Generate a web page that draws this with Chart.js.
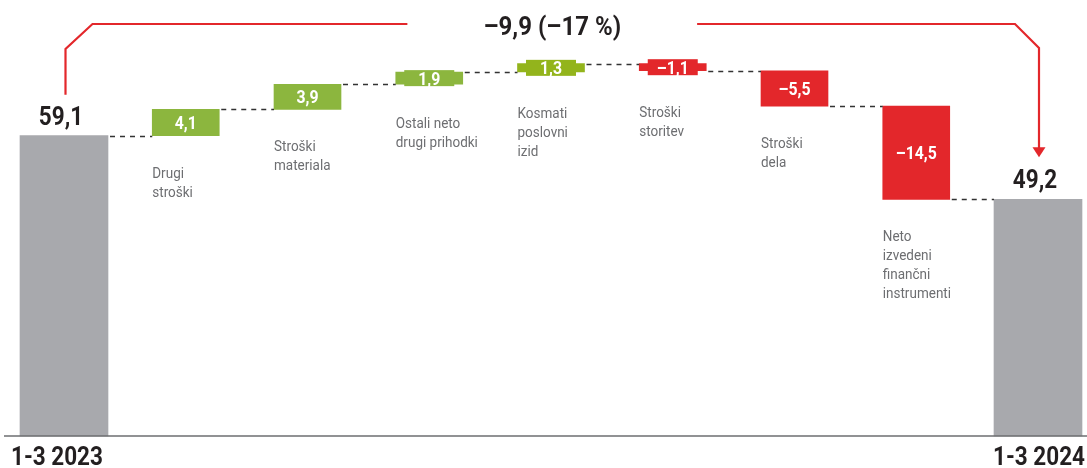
<!DOCTYPE html>
<html>
<head>
<meta charset="utf-8">
<script src="https://cdn.jsdelivr.net/npm/chart.js@4"></script>
<style>
  html, body { margin: 0; padding: 0; background: #fff; }
  #wrap { width: 1087px; height: 468px; }
</style>
</head>
<body>
<div id="wrap"><canvas id="slap"></canvas></div>
<script>
// Podatki
const obdobja = ["1-3 2023", "1-3 2024"];
const zacetek = 59.1;
const konec = 49.2;
const postavke = [
  ["Drugi", "stroški"],
  ["Stroški", "materiala"],
  ["Ostali neto", "drugi prihodki"],
  ["Kosmati", "poslovni", "izid"],
  ["Stroški", "storitev"],
  ["Stroški", "dela"],
  ["Neto", "izvedeni", "finančni", "instrumenti"]
];
const spremembe = [4.1, 3.9, 1.9, 1.3, -1.1, -5.5, -14.5];
const barve = ["#8cb63e", "#8cb63e", "#8cb63e", "#93b41c", "#e3272b", "#e3272b", "#e3272b"];

const FONT = 'Roboto, "Liberation Sans", sans-serif';
const Y_MIN = 12.4;
const Y_MAX = 80.2;

function fmt(v) {
  const s = Math.abs(v).toFixed(1).replace(".", ",");
  return v < 0 ? "\u2013" + s : s;
}

// ozek tekst (stisnjen vodoravno)
function tekst(ctx, s, x, y, align, font, sx) {
  ctx.save();
  ctx.font = font;
  ctx.textAlign = align;
  ctx.translate(x, y);
  ctx.scale(sx, 1);
  ctx.fillText(s, 0, 0);
  ctx.restore();
}

// tekoče vsote za plavajoče stolpce
const plavajoci = [null];
let vsota = zacetek;
spremembe.forEach(v => {
  plavajoci.push([vsota, vsota + v]);
  vsota += v;
});
plavajoci.push(null);

const oznake = [obdobja[0], ...postavke.map(p => p.join(" ")), obdobja[1]];
const skupni = [zacetek, ...spremembe.map(() => null), konec];

const risanje = {
  id: "slapOznake",
  afterDatasetsDraw(chart) {
    const { ctx, scales: { x, y } } = chart;
    const meta = chart.getDatasetMeta(1);
    const metaSk = chart.getDatasetMeta(0);
    ctx.save();
    ctx.textBaseline = "alphabetic";

    // osnovna črta
    ctx.strokeStyle = "#6d6e71";
    ctx.lineWidth = 1.5;
    ctx.beginPath();
    ctx.moveTo(4, y.bottom);
    ctx.lineTo(chart.width, y.bottom);
    ctx.stroke();

    // črtkane povezave
    const stolpec = i => (i === 0 || i === 8 ? metaSk.data[i] : meta.data[i]);
    ctx.setLineDash([5, 5]);
    ctx.strokeStyle = "#333";
    ctx.lineWidth = 1.5;
    let tek = zacetek;
    for (let i = 0; i < 8; i++) {
      if (i > 0) tek += spremembe[i - 1];
      const a = stolpec(i), b = stolpec(i + 1);
      const yy = Math.round(y.getPixelForValue(tek)) + 0.5;
      ctx.beginPath();
      ctx.moveTo(a.x + a.width / 2 + 2, yy);
      ctx.lineTo(b.x - b.width / 2, yy);
      ctx.stroke();
    }
    ctx.setLineDash([]);

    // oznake sprememb
    spremembe.forEach((v, k) => {
      const el = meta.data[k + 1];
      const top = Math.min(el.y, el.base), bot = Math.max(el.y, el.base);
      const mid = (top + bot) / 2;
      let spodaj = bot;
      if (bot - top < 20) {
        ctx.fillStyle = barve[k];
        ctx.fillRect(el.x - 25, mid - 8, 50, 16);
        spodaj = mid + 8;
      }
      ctx.fillStyle = "#fff";
      tekst(ctx, fmt(v), el.x, mid + 6.5, "center", "bold 18px " + FONT, 0.88);

      ctx.fillStyle = "#6d6e71";
      postavke[k].forEach((vr, j) => {
        tekst(ctx, vr, el.x - el.width / 2, spodaj + 42 + j * 19, "left", "15px " + FONT, 0.9);
      });
    });

    // skupne vrednosti
    ctx.fillStyle = "#231f20";
    [0, 8].forEach(i => {
      const el = metaSk.data[i];
      tekst(ctx, fmt(skupni[i]), el.x - 3, el.y - 11, "center", "bold 25px " + FONT, 0.9);
    });

    // obdobja
    tekst(ctx, obdobja[0], 11, 465, "left", "bold 25px " + FONT, 0.9);
    tekst(ctx, obdobja[1], chart.width - 2, 465, "right", "bold 25px " + FONT, 0.9);

    // rdeč oklepaj
    const x0 = metaSk.data[0].x + 1.5, x1 = metaSk.data[8].x + 1;
    const yTop = 24;
    const pct = Math.round((konec - zacetek) / zacetek * 100);
    const besedilo = fmt(konec - zacetek) + " (" + (pct < 0 ? "\u2013" : "") + Math.abs(pct) + " %)";
    const fontNaslov = "bold 25px " + FONT;
    const sxNaslov = 0.96;
    ctx.font = fontNaslov;
    const sred = (x0 + x1) / 2;
    const pol = ctx.measureText(besedilo).width * sxNaslov / 2 + 76;
    ctx.strokeStyle = "#e3272b";
    ctx.lineWidth = 2.2;
    ctx.beginPath();
    ctx.moveTo(x0, metaSk.data[0].y - 41);
    ctx.lineTo(x0, yTop + 25);
    ctx.lineTo(x0 + 27, yTop);
    ctx.lineTo(sred - pol, yTop);
    ctx.moveTo(sred + pol, yTop);
    ctx.lineTo(x1 - 24, yTop);
    ctx.lineTo(x1, yTop + 24);
    const konica = metaSk.data[8].y - 42;
    ctx.lineTo(x1, konica - 8);
    ctx.stroke();
    ctx.fillStyle = "#e3272b";
    ctx.beginPath();
    ctx.moveTo(x1 - 6.5, konica - 10);
    ctx.lineTo(x1 + 6.5, konica - 10);
    ctx.lineTo(x1, konica);
    ctx.closePath();
    ctx.fill();

    ctx.fillStyle = "#231f20";
    tekst(ctx, besedilo, sred, 35, "center", fontNaslov, sxNaslov);

    ctx.restore();
  }
};

new Chart(document.getElementById("slap"), {
  type: "bar",
  data: {
    labels: oznake,
    datasets: [
      {
        data: skupni,
        backgroundColor: "#a8a9ad",
        barThickness: 88,
        base: Y_MIN,
        clip: false
      },
      {
        data: plavajoci,
        backgroundColor: ctx => barve[ctx.dataIndex - 1] || "#000",
        barThickness: 67,
        clip: false
      }
    ]
  },
  plugins: [risanje],
  options: {
    responsive: true,
    maintainAspectRatio: false,
    animation: false,
    events: [],
    layout: { padding: { left: 64, right: 49, top: 0, bottom: 32 } },
    datasets: { bar: { grouped: false, borderWidth: 0 } },
    plugins: { legend: { display: false }, tooltip: { enabled: false } },
    scales: {
      x: { display: false, offset: false },
      y: { display: false, min: Y_MIN, max: Y_MAX }
    }
  }
});
</script>
</body>
</html>
